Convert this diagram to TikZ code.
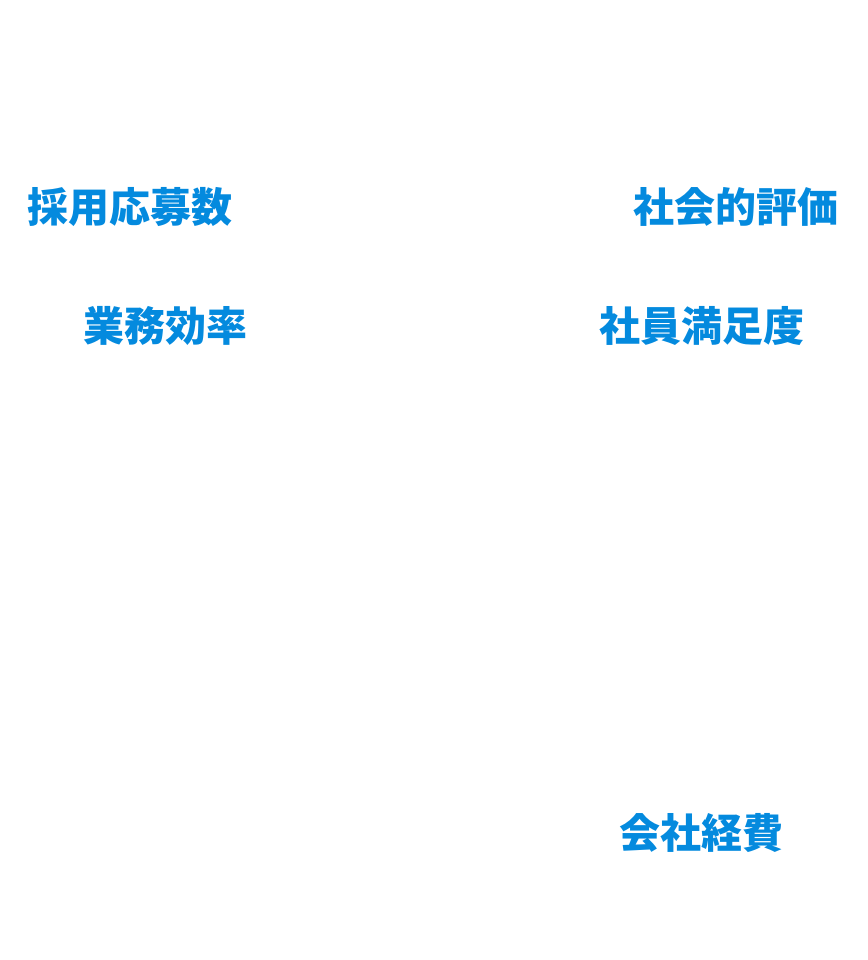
\documentclass[tikz,border=0pt]{standalone}
\usepackage{fontspec}
\newfontfamily\cjk{Noto Sans CJK JP}
\definecolor{lblblue}{RGB}{4,138,222}
\begin{document}
\begin{tikzpicture}[x=1pt,y=1pt,
  lbl/.style={font=\cjk\bfseries\fontsize{41}{41}\selectfont, text=lblblue, inner sep=0pt}]
\useasboundingbox (0,0) rectangle (867,-960);
\node[lbl] (recruit) at (130,-207) {採用応募数};
\node[lbl] (social) at (735.5,-207) {社会的評価};
\node[lbl] (eff) at (165,-326) {業務効率};
\node[lbl] (sat) at (701.5,-326) {社員満足度};
\node[lbl] (cost) at (701.5,-833) {会社経費};
\end{tikzpicture}
\end{document}
